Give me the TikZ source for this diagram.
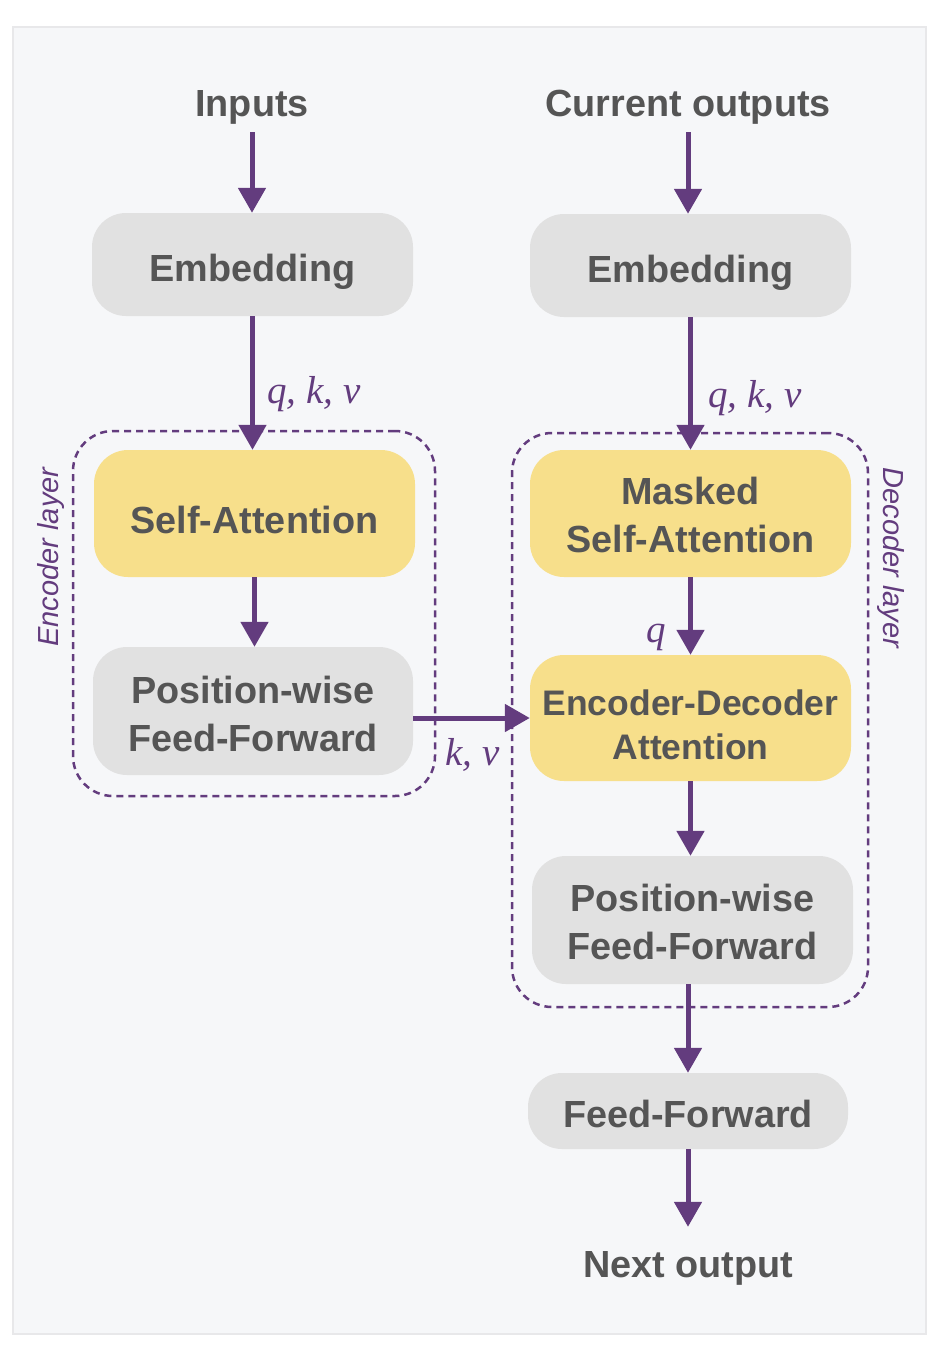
\documentclass[tikz,border=0pt]{standalone}
\usepackage{fontspec}
\setmainfont{Liberation Sans}
\newfontfamily\qkvfont{Liberation Serif}
\usetikzlibrary{arrows.meta}
\definecolor{pur}{RGB}{99,60,126}
\definecolor{txt}{RGB}{85,85,85}
\definecolor{boxgray}{RGB}{225,225,225}
\definecolor{boxyel}{RGB}{247,223,139}
\definecolor{bgc}{RGB}{246,247,249}
\definecolor{bgline}{RGB}{232,232,234}
\newcommand\dn[2]{\raisebox{-#1}[\height][\depth]{#2}}
\begin{document}
\begin{tikzpicture}[x=1pt,y=-1pt,
  box/.style={rounded corners=34pt, minimum width=321pt, inner sep=0pt, align=center,
    font=\fontsize{37.8}{48}\selectfont\bfseries, text=txt},
  gbox/.style={box, fill=boxgray},
  ybox/.style={box, fill=boxyel},
  lbl/.style={font=\fontsize{37.8}{37.8}\selectfont\bfseries, text=txt, text height=27pt,
    text depth=8pt, inner xsep=0pt, inner ysep=8pt, anchor=base},
  arr/.style={draw=pur, line width=5pt, -{Triangle[width=27pt,length=25pt]}},
  layer/.style={draw=pur, line width=2.5pt, dash pattern=on 7pt off 5pt,
    rounded corners=40pt, inner sep=0pt},
  qkv/.style={font=\fontsize{39}{39}\selectfont\qkvfont\itshape, text=pur,
    anchor=base west, inner sep=0pt},
  side/.style={font=\fontsize{29}{29}\selectfont\itshape, text=pur, inner sep=0pt}
]
\useasboundingbox (0,0) rectangle (938,1355);
\fill[bgc] (13,27) rectangle (926,1334);
\draw[bgline, line width=1.5pt] (13,27) rectangle (926,1334);

% layer frames
\node[layer, minimum width=362pt, minimum height=365pt] (enc) at (254,613.5) {};
\node[layer, minimum width=356pt, minimum height=574pt] (dec) at (690,720) {};

% texts
\node[lbl] (inL) at (252,116) {Inputs};
\node[lbl] (inR) at (688,116) {Current outputs};
\node[lbl, inner ysep=23pt] (nout) at (688,1277) {Next output};

% boxes
\node[gbox, minimum height=103pt] (embL) at (252.5,264.5) {\dn{7.5pt}{Embedding}};
\node[gbox, minimum height=103pt] (embR) at (690.5,265.5) {\dn{7.5pt}{Embedding}};
\node[ybox, minimum height=127pt] (sa) at (254.5,513.5) {\dn{6pt}{Self-Attention}};
\node[gbox, minimum height=128pt, minimum width=320pt] (pwL) at (253,711)
  {\dn{2.5pt}{Position-wise}\\\dn{2.5pt}{Feed-Forward}};
\node[ybox, minimum height=127pt] (msa) at (690.5,513.5)
  {\dn{1pt}{Masked}\\\dn{1pt}{Self-Attention}};
\node[ybox, minimum height=126pt, font=\fontsize{35.5}{44}\selectfont\bfseries] (eda) at (690.5,718)
  {\dn{7pt}{Encoder-Decoder}\\\dn{7pt}{Attention}};
\node[gbox, minimum height=128pt] (pwR) at (692.5,920)
  {\dn{2pt}{Position-wise}\\\dn{2pt}{Feed-Forward}};
\node[gbox, minimum height=76pt, minimum width=320pt] (ff) at (688,1111) {\dn{3pt}{Feed-Forward}};

% arrows
\draw[arr] (inL.south) -- (inL.south |- embL.north);
\draw[arr] (embL.south) -- (embL.south |- sa.north);
\draw[arr] (sa.south) -- (sa.south |- pwL.north);
\draw[arr] (pwL.east |- eda.west) -- (eda.west);
\draw[arr] (inR.south) -- (inR.south |- embR.north);
\draw[arr] (embR.south) -- (embR.south |- msa.north);
\draw[arr] (msa.south) -- (msa.south |- eda.north);
\draw[arr] (eda.south) -- (eda.south |- pwR.north);
\draw[arr] (ff.north |- pwR.south) -- (ff.north);
\draw[arr] (ff.south) -- (nout.north);

% labels
\node[qkv] (qkvL) at (267,403) {q, k, v};
\node[qkv] (qkvR) at (708,407) {q, k, v};
\node[qkv] (qlab) at (646,642) {q};
\node[qkv] (kvlab) at (445,765) {k, v};
\node[side, rotate=90] (encl) at (51,557) {Encoder layer};
\node[side, rotate=-90] (decl) at (891,558) {Decoder layer};
\end{tikzpicture}
\end{document}
